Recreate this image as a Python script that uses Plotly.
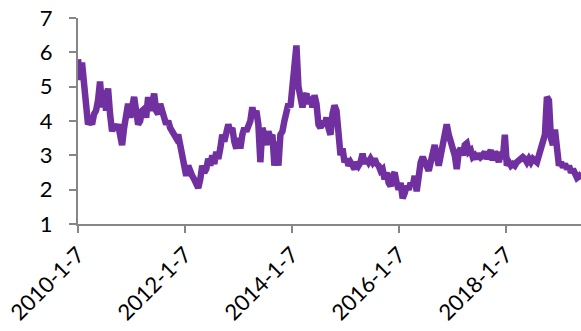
import pandas as pd
import plotly.graph_objects as go

C_LINE = "#7030A0"
C_AXIS = "#868686"

START_DATE = "2010-01-07"
END_DATE = "2019-06-03"

# biweekly readings of the series
values = [
    5.8, 5.2, 5.7, 5.1, 4.6, 3.9, 4.0, 3.9, 4.2, 4.3,
    4.6, 5.15, 4.4, 4.9, 4.3, 4.95, 4.2, 3.7, 3.9, 3.75,
    3.9, 3.6, 3.3, 3.8, 4.3, 4.5, 4.1, 4.5, 4.7, 4.3,
    3.9, 4.0, 4.3, 4.35, 4.1, 4.7, 4.3, 4.5, 4.8, 4.3,
    4.2, 4.5, 4.2, 4.1, 3.9, 4.0, 3.8, 3.7, 3.6, 3.5,
    3.6, 3.3, 3.1, 2.9, 2.4, 2.7, 2.5, 2.4, 2.3, 2.2,
    2.05, 2.3, 2.7, 2.5, 2.6, 2.9, 2.7, 3.0, 2.75, 3.1,
    2.9, 3.2, 3.6, 3.4, 3.6, 3.9, 3.7, 3.8, 3.4, 3.2,
    3.5, 3.2, 3.6, 3.8, 3.7, 3.9, 4.0, 4.4, 4.1, 4.3,
    3.9, 2.8, 3.8, 3.6, 3.3, 3.7, 3.5, 3.6, 2.7, 3.4,
    2.7, 3.6, 3.7, 4.0, 4.3, 4.5, 4.4, 5.2, 5.6, 6.2,
    5.0, 4.6, 4.4, 4.7, 4.8, 4.5, 4.7, 4.4, 4.75, 4.5,
    3.9, 3.8, 4.0, 3.85, 4.1, 3.8, 3.6, 4.2, 4.45, 4.3,
    3.8, 3.0, 3.2, 2.8, 2.9, 2.7, 2.8, 2.65, 2.6, 2.8,
    2.7, 2.8, 3.05, 2.75, 2.9, 2.8, 2.9, 2.8, 2.9, 2.75,
    2.7, 2.55, 2.6, 2.3, 2.5, 2.2, 2.1, 2.4, 2.5, 2.2,
    2.0, 2.2, 1.75, 1.9, 2.1, 2.0, 2.2, 2.1, 2.4, 1.95,
    2.6, 2.8, 2.95, 2.8, 2.6, 2.55, 2.8, 3.2, 3.3, 3.0,
    2.7, 3.0, 3.3, 3.5, 3.9, 3.6, 3.3, 3.2, 3.0, 2.6,
    3.1, 3.2, 3.0, 3.3, 3.35, 3.1, 3.15, 2.95, 3.0, 2.9,
    3.05, 2.95, 3.0, 3.1, 2.9, 3.1, 3.15, 2.85, 3.1, 3.0,
    2.8, 3.1, 2.9, 3.6, 2.7, 2.8, 2.7, 2.75, 2.7, 2.8,
    2.85, 2.9, 2.95, 2.9, 2.8, 2.9, 2.8, 2.9, 2.85, 2.8,
    3.0, 3.2, 3.3, 3.6, 4.7, 4.6, 3.5, 3.3, 3.75, 3.0,
    2.7, 2.8, 2.65, 2.75, 2.6, 2.7, 2.5, 2.6, 2.45, 2.35,
    2.4, 2.3,
]

tick_dates = ["2010-01-07", "2012-01-07", "2014-01-07", "2016-01-07", "2018-01-07"]
tick_labels = ["2010-1-7", "2012-1-7", "2014-1-7", "2016-1-7", "2018-1-7"]

dates = pd.date_range(START_DATE, END_DATE, periods=len(values))

fig = go.Figure()
fig.add_trace(go.Scatter(
    x=dates,
    y=values,
    mode="lines",
    line=dict(color=C_LINE, width=6.5),
    showlegend=False,
))

fig.update_layout(
    width=581,
    height=331,
    margin=dict(l=78, r=0, t=18, b=107),
    paper_bgcolor="white",
    plot_bgcolor="white",
    font=dict(family="Lato, Carlito, sans-serif", size=22, color="black"),
    xaxis=dict(
        range=[START_DATE, END_DATE],
        tickvals=tick_dates,
        ticktext=tick_labels,
        tickangle=-45,
        automargin=False,
        showgrid=False,
        zeroline=False,
        showline=True,
        linecolor=C_AXIS,
        linewidth=2,
        ticks="outside",
        tickcolor=C_AXIS,
        tickwidth=2,
        ticklen=7,
    ),
    yaxis=dict(
        range=[1, 7],
        tickvals=[1, 2, 3, 4, 5, 6, 7],
        automargin=False,
        showgrid=False,
        zeroline=False,
        showline=True,
        linecolor=C_AXIS,
        linewidth=2,
        ticks="outside",
        tickcolor=C_AXIS,
        tickwidth=2,
        ticklen=7,
        ticklabelstandoff=12,
    ),
)

# page body has a default 8px margin; drop it so the figure sits at 0,0
fig.write_html(
    "out.html",
    config={"displayModeBar": False},
    post_script="document.body.style.margin='0';",
)
